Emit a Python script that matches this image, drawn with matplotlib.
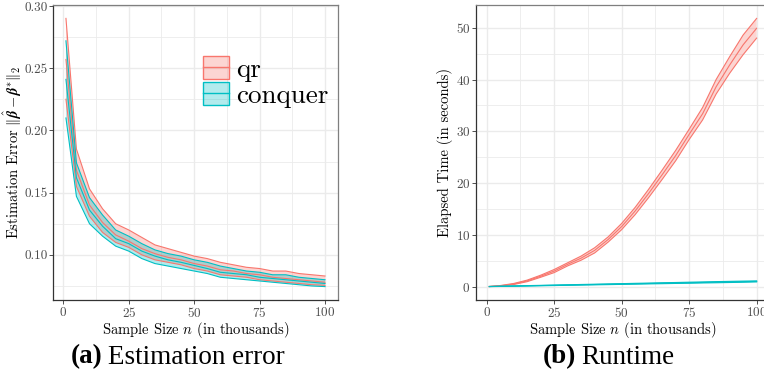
#!/usr/bin/env python3

import numpy as np
import matplotlib
matplotlib.use("Agg")
import matplotlib.pyplot as plt
from matplotlib.patches import Patch
from matplotlib.lines import Line2D

# sample sizes (in thousands)
n_vals = [1, 5, 10, 15, 20, 25, 30, 35, 40, 45, 50, 55, 60, 65, 70, 75, 80, 85, 90, 95, 100]

# estimation error
qr_err_upper = [0.290, 0.185, 0.153, 0.137, 0.125, 0.120, 0.114, 0.108, 0.105, 0.102, 0.099,
                0.097, 0.094, 0.092, 0.090, 0.089, 0.087, 0.087, 0.085, 0.084, 0.083]
qr_err_mean = [0.257, 0.168, 0.140, 0.126, 0.116, 0.111, 0.105, 0.101, 0.098, 0.096, 0.093,
               0.091, 0.088, 0.087, 0.085, 0.084, 0.082, 0.081, 0.080, 0.079, 0.078]
qr_err_lower = [0.225, 0.155, 0.131, 0.118, 0.110, 0.106, 0.100, 0.096, 0.094, 0.092, 0.089,
                0.087, 0.084, 0.083, 0.082, 0.080, 0.079, 0.078, 0.077, 0.076, 0.0755]
cq_err_upper = [0.272, 0.174, 0.146, 0.132, 0.120, 0.115, 0.109, 0.104, 0.101, 0.099, 0.096,
                0.094, 0.091, 0.089, 0.087, 0.086, 0.084, 0.084, 0.082, 0.081, 0.080]
cq_err_mean = [0.241, 0.162, 0.136, 0.123, 0.113, 0.109, 0.103, 0.099, 0.096, 0.094, 0.0915,
               0.089, 0.086, 0.085, 0.084, 0.082, 0.081, 0.080, 0.079, 0.078, 0.077]
cq_err_lower = [0.210, 0.147, 0.125, 0.115, 0.107, 0.103, 0.097, 0.093, 0.091, 0.089, 0.087,
                0.085, 0.082, 0.081, 0.080, 0.079, 0.078, 0.077, 0.076, 0.075, 0.0745]

# runtime (seconds)
qr_time_upper = [0.02, 0.2, 0.6, 1.25, 2.2, 3.3, 4.6, 5.9, 7.5, 9.6, 12.2,
                 15.3, 18.8, 22.5, 26.3, 30.4, 34.6, 40.0, 44.4, 48.6, 51.8]
qr_time_mean = [0.01, 0.15, 0.5, 1.1, 2.0, 3.0, 4.3, 5.5, 7.0, 9.1, 11.6,
                14.6, 18.0, 21.6, 25.3, 29.4, 33.4, 38.6, 42.8, 46.7, 49.9]
qr_time_lower = [0.01, 0.1, 0.4, 0.95, 1.8, 2.7, 4.0, 5.1, 6.5, 8.6, 11.0,
                 13.9, 17.2, 20.7, 24.3, 28.4, 32.2, 37.2, 41.2, 44.8, 48.0]
cq_time_upper = [0.03, 0.07, 0.13, 0.19, 0.24, 0.30, 0.35, 0.41, 0.46, 0.52, 0.57,
                 0.63, 0.68, 0.74, 0.79, 0.85, 0.90, 0.96, 1.01, 1.06, 1.10]
cq_time_mean = [0.01, 0.05, 0.10, 0.15, 0.20, 0.25, 0.30, 0.35, 0.40, 0.45, 0.50,
                0.55, 0.60, 0.65, 0.70, 0.75, 0.80, 0.85, 0.90, 0.95, 1.00]
cq_time_lower = [0.00, 0.03, 0.07, 0.11, 0.16, 0.20, 0.25, 0.29, 0.34, 0.38, 0.43,
                 0.47, 0.52, 0.56, 0.61, 0.65, 0.70, 0.74, 0.79, 0.84, 0.90]

QR_COL = '#F8766D'
CQ_COL = '#00BFC4'

plt.rcParams['font.family'] = ['cmr10', 'DejaVu Serif']
plt.rcParams['mathtext.fontset'] = 'cm'
plt.rcParams['axes.formatter.use_mathtext'] = True

W, H = 764, 379


def ribbon(ax, x, lo, mid, hi, col):
    ax.fill_between(x, lo, hi, facecolor=col, alpha=0.3, edgecolor='none', zorder=2)
    ax.plot(x, lo, color=col, lw=0.8, zorder=3)
    ax.plot(x, hi, color=col, lw=0.8, zorder=3)
    ax.plot(x, mid, color=col, lw=0.8, zorder=3)


def style_axes(ax, lo, hi):
    span = hi - lo
    ax.set_ylim(lo - 0.05 * span, hi + 0.05 * span)
    ax.set_xlim(min(n_vals) - 0.05 * 99, max(n_vals) + 0.05 * 99)
    ax.set_xticks([0, 25, 50, 75, 100])
    ax.set_xticks([12.5, 37.5, 62.5, 87.5], minor=True)
    ax.grid(which='major', color='#EBEBEB', lw=1.0, zorder=0)
    ax.grid(which='minor', color='#EBEBEB', lw=0.6, zorder=0)
    ax.set_axisbelow(True)
    ax.tick_params(which='major', length=3, width=0.6, color='#333333',
                   labelsize=9.5, labelcolor='#4D4D4D', pad=1)
    ax.tick_params(which='minor', length=0)
    for s in ['left', 'bottom']:
        ax.spines[s].set_color('#333333')
        ax.spines[s].set_linewidth(0.9)
    for s in ['top', 'right']:
        ax.spines[s].set_color('#7F7F7F')
        ax.spines[s].set_linewidth(0.9)
    ax.set_xlabel('Sample Size $n$ (in thousands)', fontsize=10.5, labelpad=0)


fig = plt.figure(figsize=(W / 100, H / 100), dpi=100)

# (a) estimation error
ax1 = fig.add_axes([53 / W, 1 - 300 / H, 285 / W, 295 / H])
ribbon(ax1, n_vals, qr_err_lower, qr_err_mean, qr_err_upper, QR_COL)
ribbon(ax1, n_vals, cq_err_lower, cq_err_mean, cq_err_upper, CQ_COL)
style_axes(ax1, min(cq_err_lower), max(qr_err_upper))
ax1.set_yticks([0.10, 0.15, 0.20, 0.25, 0.30])
ax1.set_yticks([0.075, 0.125, 0.175, 0.225, 0.275], minor=True)
ax1.yaxis.set_major_formatter(matplotlib.ticker.FormatStrFormatter('%.2f'))
ax1.set_ylabel(r'Estimation Error $\|\hat{\boldsymbol{\beta}} - \boldsymbol{\beta}^{*}\|_2$',
               fontsize=10.5)
ax1.yaxis.set_label_coords(-(53 - 24) / 285, 0.5)

handles = [(Patch(facecolor=QR_COL, alpha=0.3, edgecolor='none'),
            Patch(facecolor='none', edgecolor=QR_COL, lw=1.0),
            Line2D([], [], color=QR_COL, lw=1.0)),
           (Patch(facecolor=CQ_COL, alpha=0.3, edgecolor='none'),
            Patch(facecolor='none', edgecolor=CQ_COL, lw=1.0),
            Line2D([], [], color=CQ_COL, lw=1.0))]
ax1.legend(handles, ['qr', 'conquer'], loc='upper left', bbox_to_anchor=(0.527, 0.827),
           frameon=False, fontsize=19.5, handlelength=0.95, handleheight=0.95,
           handletextpad=0.25, labelspacing=0.0, borderpad=0.0, borderaxespad=0.0)

# (b) runtime
ax2 = fig.add_axes([476 / W, 1 - 300 / H, 294 / W, 295 / H])
ribbon(ax2, n_vals, qr_time_lower, qr_time_mean, qr_time_upper, QR_COL)
ribbon(ax2, n_vals, cq_time_lower, cq_time_mean, cq_time_upper, CQ_COL)
style_axes(ax2, 0.0, max(qr_time_upper))
ax2.set_yticks([0, 10, 20, 30, 40, 50])
ax2.set_yticks([5, 15, 25, 35, 45], minor=True)
ax2.set_ylabel('Elapsed Time (in seconds)', fontsize=10.5)
ax2.yaxis.set_label_coords(-(476 - 453) / 294, 0.5)

# captions: bold tag followed by regular text
cap = dict(family='Liberation Serif', fontsize=19.5, va='center')
renderer = fig.canvas.get_renderer()
for x0, tag, txt in [(71, '(a)', 'Estimation error'), (543, '(b)', 'Runtime')]:
    t = fig.text(x0 / W, 1 - 357 / H, tag, ha='left', weight='bold', **cap)
    bb = t.get_window_extent(renderer)
    fig.text((bb.x1 + 5) / W, 1 - 357 / H, txt, ha='left', **cap)

fig.savefig('out.png', dpi=100)
